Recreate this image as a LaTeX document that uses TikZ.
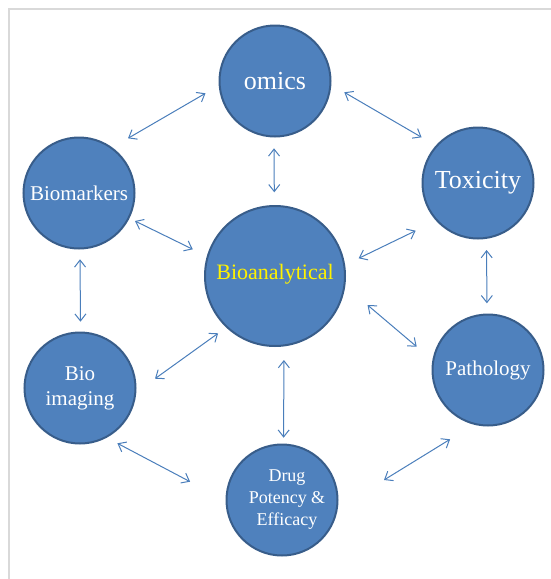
\documentclass[tikz,border=0pt]{standalone}
\usepackage{fontspec}
\setmainfont{Liberation Serif}
\usetikzlibrary{calc, arrows.meta}

\definecolor{bubblefill}{HTML}{4F81BD}
\definecolor{bubbleline}{HTML}{385D8A}
\definecolor{linkblue}{HTML}{4A7EBB}
\definecolor{framegray}{HTML}{D9D9D9}

\tikzset{
  bubble/.style={circle, fill=bubblefill, draw=bubbleline, line width=2pt,
    minimum size=111pt, inner sep=0pt, text=white, align=center},
  link/.style={draw=linkblue, line width=1pt,
    {Straight Barb[length=7pt,width=11pt]}-{Straight Barb[length=7pt,width=11pt]}},
}

\begin{document}
\begin{tikzpicture}[x=1pt, y=1pt]
  \useasboundingbox (0,0) rectangle (551,-579);
  \draw [framegray, line width=2pt] (9,-579) -- (9,-9) -- (551,-9);
  % circles
  \node [bubble, font=\fontsize{26}{30}\selectfont] (omics) at (275,-81) {omics};
  \node [bubble, font=\fontsize{21}{25}\selectfont] (bmark) at (79,-193) {Biomarkers};
  \node [bubble, font=\fontsize{26}{30}\selectfont] (tox) at (478,-183) {Toxicity};
  \node [bubble, minimum size=140pt, text=yellow, font=\fontsize{22}{26}\selectfont] (bioan) at (275,-276) {\raisebox{8pt}{Bioanalytical}};
  \node [bubble, font=\fontsize{21}{25}\selectfont] (bioim) at (80,-388) {Bio\\imaging};
  \node [bubble, font=\fontsize{21}{25}\selectfont] (path) at (488,-370) {Pathology};
  \node [bubble, font=\fontsize{18}{22}\selectfont] (drug) at (282,-500) {\hspace*{10pt}Drug\\\hspace*{10pt}Potency \&\\\hspace*{10pt}Efficacy};
  % arrows
  \draw [link] ($(omics)+(-69.5,-12.3)$) -- ($(bmark)+(49,54.7)$);
  \draw [link] ($(omics)+(69.3,-11.3)$) -- ($(tox)+(-56.4,45.7)$);
  \draw [link] ($(omics)+(-1,-67.3)$) -- ($(bioan)+(-0.7,83.7)$);
  \draw [link] ($(bmark)+(56,-28)$) -- ($(bioan)+(-82.2,26.7)$);
  \draw [link] ($(bioan)+(83.7,17.7)$) -- ($(tox)+(-62.3,-47.7)$);
  \draw [link] ($(bmark)+(1,-66.3)$) -- ($(bioim)+(0.5,66.3)$);
  \draw [link] ($(tox)+(8.6,-67)$) -- ($(path)+(-1.1,66.7)$);
  \draw [link] ($(bioan)+(-56.9,-57.3)$) -- ($(bioim)+(75,9.3)$);
  \draw [link] ($(bioan)+(92.5,-29)$) -- ($(path)+(-71.3,23.3)$);
  \draw [link] ($(bioan)+(8.9,-84)$) -- ($(drug)+(1.6,62.3)$);
  \draw [link] ($(bioim)+(37.4,-55.3)$) -- ($(drug)+(-91.9,18.3)$);
  \draw [link] ($(drug)+(102,20)$) -- ($(path)+(-37.9,-69.3)$);
\end{tikzpicture}
\end{document}
